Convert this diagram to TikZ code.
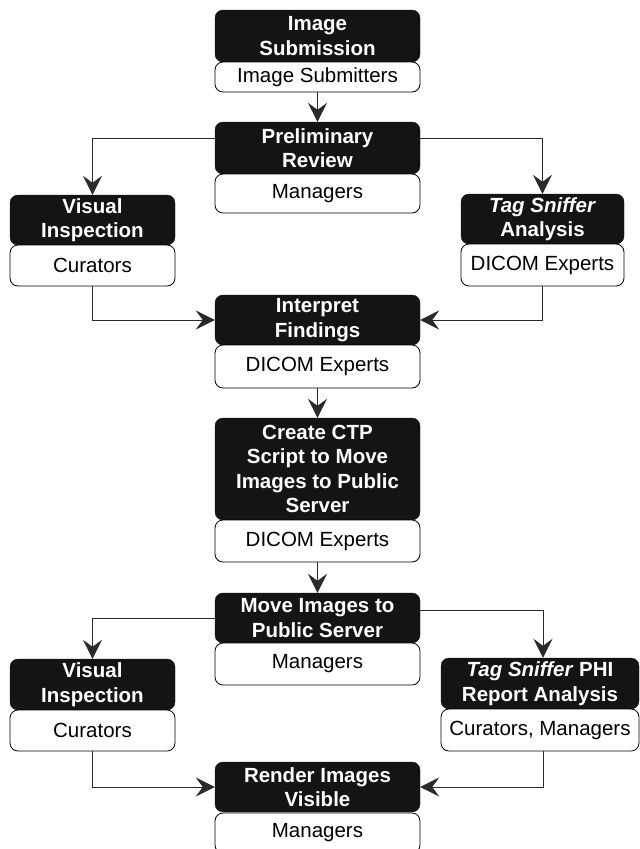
\documentclass[tikz,border=0pt]{standalone}
\usepackage{fontspec}
\setmainfont{Liberation Sans}
\usetikzlibrary{arrows.meta}
\definecolor{boxblack}{HTML}{141414}
\definecolor{linegray}{HTML}{2A2A2A}
\begin{document}
\begin{tikzpicture}[x=1pt,y=1pt,
  blk/.style={fill=boxblack, draw=boxblack, rounded corners=8pt, text=white,
    font=\bfseries\fontsize{20.5}{24.5}\selectfont, align=center, inner sep=0pt},
  wht/.style={fill=white, draw=black, line width=0.8pt, rounded corners=8pt,
    font=\fontsize{20.5}{24}\selectfont, align=center, inner sep=0pt},
  arr/.style={draw=linegray, line width=1pt, -{Stealth[length=19pt,width=19pt,inset=7pt]}}]
\useasboundingbox (0,0) rectangle (640,-849);
% Image Submission
\node[blk, minimum width=205, minimum height=52] (n1b) at (317.5,-36) {Image\\Submission};
\node[wht, minimum width=205, minimum height=30] (n1w) at (317.5,-77) {Image Submitters};
% Preliminary Review
\node[blk, minimum width=205, minimum height=52] (n2b) at (317.5,-148) {Preliminary\\Review};
\node[wht, minimum width=205, minimum height=39] (n2w) at (317.5,-193.5) {Managers};
% Visual Inspection 1
\node[blk, minimum width=165, minimum height=50] (v1b) at (92.5,-220) {Visual\\Inspection};
\node[wht, minimum width=165, minimum height=41] (v1w) at (92.5,-265.5) {Curators};
% Tag Sniffer Analysis
\node[blk, minimum width=163, minimum height=50] (t1b) at (542.5,-219) {\textit{Tag Sniffer}\\Analysis};
\node[wht, minimum width=163, minimum height=42] (t1w) at (542.5,-265) {DICOM Experts};
% Interpret Findings
\node[blk, minimum width=205, minimum height=50] (ifb) at (317.5,-320) {Interpret\\Findings};
\node[wht, minimum width=205, minimum height=43] (ifw) at (317.5,-366.5) {DICOM Experts};
% Create CTP Script
\node[blk, minimum width=205, minimum height=102] (ctpb) at (317.5,-469) {Create CTP\\Script to Move\\Images to Public\\Server};
\node[wht, minimum width=205, minimum height=42] (ctpw) at (317.5,-541) {DICOM Experts};
% Move Images
\node[blk, minimum width=205, minimum height=50] (mvb) at (317.5,-618) {Move Images to\\Public Server};
\node[wht, minimum width=205, minimum height=42] (mvw) at (317.5,-664) {Managers};
% Visual Inspection 2
\node[blk, minimum width=165, minimum height=51] (v2b) at (92.5,-684.5) {Visual\\Inspection};
\node[wht, minimum width=165, minimum height=41] (v2w) at (92.5,-730.5) {Curators};
% Tag Sniffer PHI
\node[blk, minimum width=198, minimum height=51] (phib) at (540,-683.5) {\textit{Tag Sniffer} PHI\\Report Analysis};
\node[wht, minimum width=198, minimum height=42] (phiw) at (540,-730) {Curators, Managers};
% Render Images Visible
\node[blk, minimum width=205, minimum height=50] (rb) at (317.5,-787) {Render Images\\Visible};
\node[wht, minimum width=205, minimum height=40] (rw) at (317.5,-833) {Managers};
% connectors
\draw[arr] (n1w.south) -- (n2b.north);
\draw[arr] ([yshift=10pt]n2b.west) -| (v1b.north);
\draw[arr] ([yshift=10pt]n2b.east) -| (t1b.north);
\draw[arr] (v1w.south) |- (ifb.west);
\draw[arr] (t1w.south) |- (ifb.east);
\draw[arr] (ifw.south) -- (ctpb.north);
\draw[arr] (ctpw.south) -- (mvb.north);
\draw[arr] (mvb.west) -| (v2b.north);
\draw[arr] ([yshift=8pt]mvb.east) -| ([xshift=3pt]phib.north);
\draw[arr] (v2w.south) |- (rb.west);
\draw[arr] ([xshift=3pt]phiw.south) |- (rb.east);
\end{tikzpicture}
\end{document}
